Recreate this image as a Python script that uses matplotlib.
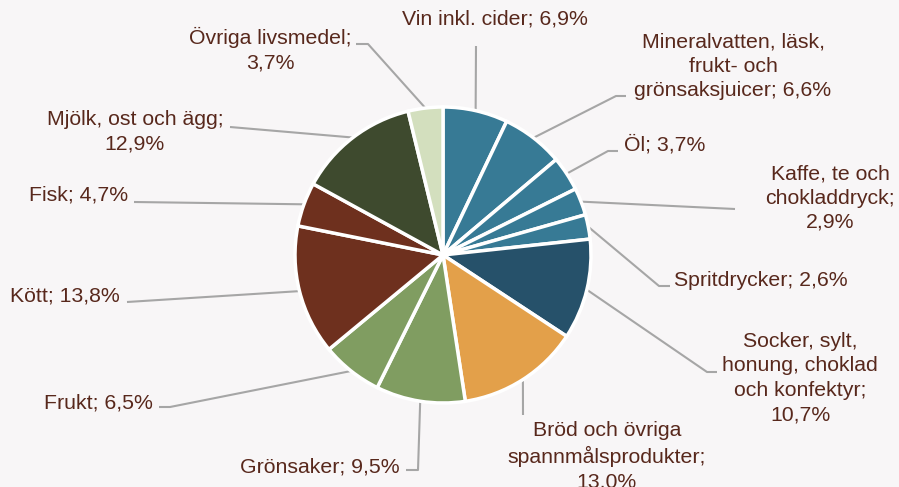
import numpy as np
import matplotlib
matplotlib.use("Agg")
import matplotlib.pyplot as plt

# ---- data ----
categories = [
    "Vin inkl. cider", "Mineralvatten, läsk,\nfrukt- och\ngrönsaksjuicer", "Öl",
    "Kaffe, te och\nchokladdryck;", "Spritdrycker", "Socker, sylt,\nhonung, choklad\noch konfektyr;",
    "Bröd och övriga\nspannmålsprodukter;", "Grönsaker", "Frukt", "Kött", "Fisk",
    "Mjölk, ost och ägg;", "Övriga livsmedel;",
]
values = [6.9, 6.6, 3.7, 2.9, 2.6, 10.7, 13.0, 9.5, 6.5, 13.8, 4.7, 12.9, 3.7]
value_labels = ["6,9%", "6,6%", "3,7%", "2,9%", "2,6%", "10,7%", "13,0%",
                "9,5%", "6,5%", "13,8%", "4,7%", "12,9%", "3,7%"]
# separator between name and value: '; ' on same line or newline
separators = ["; ", "; ", "; ", "\n", "; ", "\n", "\n", "; ", "; ", "; ", "; ", "\n", "\n"]

# ---- styles ----
teal = "#377a95"
colors = [teal, teal, teal, teal, teal, "#26516a", "#e3a04a", "#809d61", "#809d61",
          "#6e301e", "#6e301e", "#3e4a2e", "#d3dfbe"]
bg = "#f8f6f7"
txt_col = "#58281c"
line_col = "#a6a6a6"

W, H = 899, 487
cx, cy, R = 443, 255, 148  # pixel coords (y down)

# label layout: (x, y, ha) in pixels (y down), leader points after wedge anchor
label_pos = [
    (495, 19, "center"), (733, 66, "center"), (624, 145, "left"), (830, 198, "center"),
    (674, 281, "left"), (800, 378, "center"), (607, 456, "center"), (400, 467, "right"),
    (153, 403, "right"), (120, 296, "right"), (128, 195, "right"), (135, 132, "center"),
    (270, 50, "center"),
]
leader_pts = [
    [(476, 46)], [(616, 96), (626, 96)], [(608, 151), (618, 151)], [(735, 209)],
    [(659, 286), (670, 286)], [(707, 372), (717, 372)], [(523, 415)],
    [(418, 470), (406, 470)], [(170, 407), (159, 407)], [(127, 302)], [(134, 202)],
    [(230, 127)], [(368, 44), (356, 44)],
]

plt.rcParams['font.family'] = ['Liberation Sans', 'DejaVu Sans']

fig = plt.figure(figsize=(W / 100, H / 100), dpi=100, facecolor=bg)
ax = fig.add_axes([0, 0, 1, 1])
ax.set_facecolor(bg)

wedges, _ = ax.pie(values, colors=colors, startangle=90, counterclock=False,
                   center=(cx, H - cy), radius=R,
                   wedgeprops=dict(edgecolor="white", linewidth=2.5))
ax.set_xlim(0, W)
ax.set_ylim(0, H)
ax.set_aspect("equal")
ax.axis("off")

for i, w in enumerate(wedges):
    mid = np.deg2rad((w.theta1 + w.theta2) / 2)
    sx = cx + R * np.cos(mid)
    sy = (H - cy) + R * np.sin(mid)
    xs = [sx] + [p[0] for p in leader_pts[i]]
    ys = [sy] + [H - p[1] for p in leader_pts[i]]
    ax.plot(xs, ys, color=line_col, lw=1.5, solid_capstyle="butt", zorder=0)
    x, y, ha = label_pos[i]
    ax.text(x, H - y, categories[i] + separators[i] + value_labels[i],
            ha=ha, va="center", multialignment="center", fontsize=15.3,
            color=txt_col, linespacing=1.36)

fig.savefig("out.png", dpi=100, facecolor=bg)
